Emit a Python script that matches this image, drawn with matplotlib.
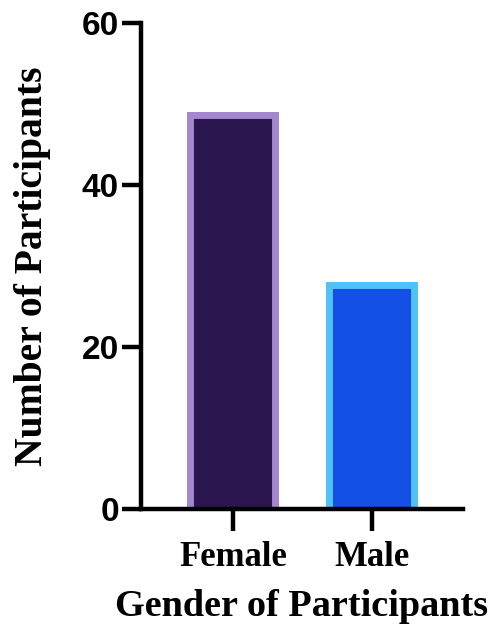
import matplotlib
matplotlib.use("Agg")
import matplotlib.pyplot as plt

# data
categories = ["Female", "Male"]
counts = [49, 28]
fill_colors = ["#2C1650", "#1450E6"]
edge_colors = ["#A587D0", "#4FC3F7"]

fig = plt.figure(figsize=(4.94, 6.39), dpi=100)
ax = fig.add_axes([0.2854, 0.2034, 0.937 - 0.2854, 0.964 - 0.2034])

x = range(len(categories))
bars = ax.bar(x, counts, width=0.66, color=fill_colors, linewidth=0, zorder=2)
# border on left, top and right only, drawn inside the bar like Prism
for b, ec in zip(bars, edge_colors):
    x0, x1 = b.get_x(), b.get_x() + b.get_width()
    h = b.get_height()
    ln, = ax.plot([x0, x0, x1, x1], [0, h, h, 0], color=ec, lw=10,
                  solid_joinstyle="miter", zorder=2.5)
    ln.set_clip_path(b)

ax.set_xlim(-0.66, 1.65)
ax.set_ylim(0, 60)
ax.set_yticks([0, 20, 40, 60])

for s in ["top", "right"]:
    ax.spines[s].set_visible(False)
for s in ["left", "bottom"]:
    ax.spines[s].set_linewidth(3.2)
    ax.spines[s].set_capstyle("projecting")
    ax.spines[s].set_zorder(3)

ax.tick_params(axis="y", length=14, width=3.2, pad=2)
ax.tick_params(axis="x", length=16, width=3.2, pad=7)

ax.set_xticks(list(x))
ax.set_xticklabels(categories, fontfamily="Liberation Serif", fontweight="bold", fontsize=25)
for lab in ax.get_yticklabels():
    lab.set_fontfamily("Liberation Sans")
    lab.set_fontweight("bold")
    lab.set_fontsize(24)

ax.set_xlabel("Gender of Participants", fontfamily="Liberation Serif",
              fontweight="bold", fontsize=27.5, labelpad=11)
ax.set_ylabel("Number of Participants", fontfamily="Liberation Serif",
              fontweight="bold", fontsize=28.5, labelpad=22)

fig.savefig("out.png", dpi=100)
